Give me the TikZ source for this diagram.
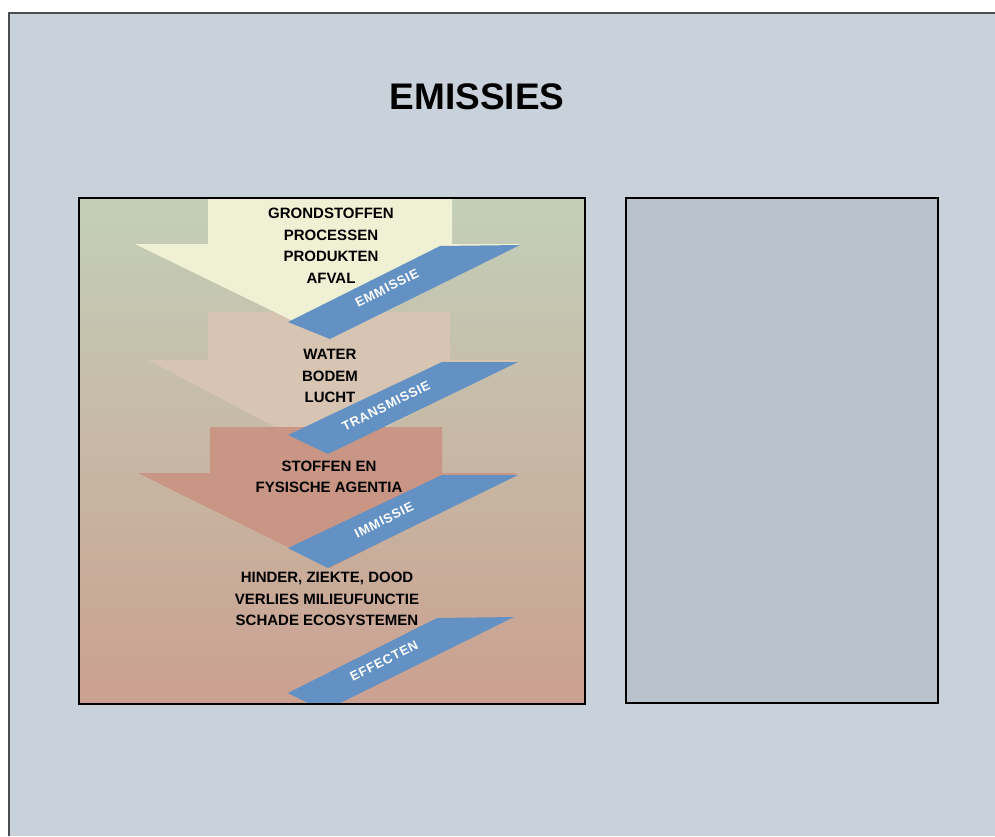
\documentclass[tikz,border=0pt]{standalone}
\usepackage{fontspec}
\setmainfont{Liberation Sans}
\definecolor{pagebg}{HTML}{C9D2DA}
\definecolor{framecol}{HTML}{4A4E52}
\definecolor{rpanel}{HTML}{B9C2CA}
\definecolor{gtop}{HTML}{C3CFB9}
\definecolor{gmid}{HTML}{CDC6B6}
\definecolor{gbot}{HTML}{CBA090}
\definecolor{arrowA}{HTML}{F0F1D4}
\definecolor{arrowB}{HTML}{D7C4B2}
\definecolor{arrowC}{HTML}{C99584}
\definecolor{band}{HTML}{6391C3}
\begin{document}
\begin{tikzpicture}[x=1pt,y=-1pt,
  maintext/.style={font=\bfseries\fontsize{15}{21.5}\selectfont, text=black, align=center, inner sep=0pt},
  bandtext/.style={font=\bfseries\fontsize{13}{14}\selectfont\addfontfeatures{LetterSpace=6}, text=white, rotate=26.5, inner sep=0pt},
  bandshape/.style={fill=band},
  panelframe/.style={draw=black, line width=1.7pt}]
\useasboundingbox (0,0) rectangle (995,836);
\fill[white] (0,0) rectangle (995,836);
\fill[pagebg] (9,13) rectangle (995,836);
\draw[framecol, line width=1.3pt] (9,836) -- (9,13) -- (995,13);

\node[font=\bfseries\fontsize{37}{40}\selectfont, inner sep=0pt] (title) at (477,97) {EMISSIES};

% right panel
\fill[rpanel] (626,198) rectangle (938,703);
\node[panelframe, minimum width=312pt, minimum height=505pt, inner sep=0pt] (rpanel) at (782,450.5) {};

% left panel
\shade[top color=gtop, middle color=gmid, bottom color=gbot] (79,198) rectangle (585,704);
\begin{scope}
\clip (79,198) rectangle (585,704);
% arrow 2 (faint)
\fill[arrowB] (208,312) -- (450,312) -- (450,360) -- (518,360) -- (330,456) -- (148,360) -- (208,360) -- cycle;
% arrow 3
\fill[arrowC] (210,427) -- (442,427) -- (442,473) -- (518,473) -- (330,568) -- (138,473) -- (210,473) -- cycle;
% arrow 1
\fill[arrowA] (208,198) -- (452,198) -- (452,244) -- (520,244) -- (330,339) -- (135,244) -- (208,244) -- cycle;
% bands
\fill[bandshape] (440,246) -- (520,245) -- (330,339) -- (288,322) -- cycle;
\fill[bandshape] (442,362) -- (518,362) -- (328,454) -- (288,435) -- cycle;
\fill[bandshape] (442,475) -- (518,475) -- (328,568) -- (288,548) -- cycle;
\fill[bandshape] (437,618) -- (514,617) -- (324,711) -- (288,693) -- cycle;
\end{scope}
\node[panelframe, minimum width=506pt, minimum height=506pt, inner sep=0pt] (lpanel) at (332,451) {};

\node[maintext] (t1) at (331,246) {GRONDSTOFFEN\\PROCESSEN\\PRODUKTEN\\AFVAL};
\node[maintext] (t2) at (330,376) {WATER\\BODEM\\LUCHT};
\node[maintext] (t3) at (329,477) {STOFFEN EN\\FYSISCHE AGENTIA};
\node[maintext] (t4) at (327,599) {HINDER, ZIEKTE, DOOD\\VERLIES MILIEUFUNCTIE\\SCHADE ECOSYSTEMEN};

\node[bandtext] (b1) at (387,288) {EMMISSIE};
\node[bandtext] (b2) at (386,406) {TRANSMISSIE};
\node[bandtext] (b3) at (384,520) {IMMISSIE};
\node[bandtext] (b4) at (384,661) {EFFECTEN};
\end{tikzpicture}
\end{document}
